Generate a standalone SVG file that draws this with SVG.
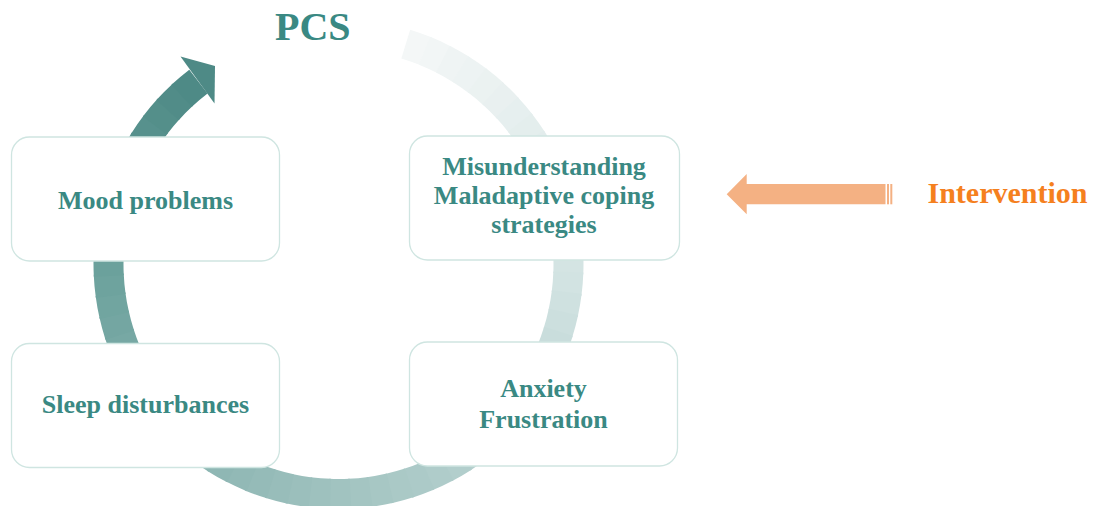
<svg xmlns="http://www.w3.org/2000/svg" xmlns:xlink="http://www.w3.org/1999/xlink" width="1095" height="506" viewBox="0 0 1095 506">
  <style>
    .box { fill: #ffffff; stroke: #cfe5e1; stroke-width: 1.3; }
    .label { font-family: "Liberation Serif", "Times New Roman", serif; font-weight: bold; font-size: 26px; fill: #3a8983; text-anchor: middle; }
    .seg { fill: none; stroke-width: 30; stroke-dasharray: 22 2000; }
  </style>
  <defs>
    <!-- one ring of the cycle; each coloured slice is a rotated dash of it -->
    <circle id="ring" cx="338.5" cy="264" r="230"/>
  </defs>

  <rect width="1095" height="506" fill="#ffffff"/>

  <g id="connectors">
    <!-- cycle arrow: light tail at the top right, darkening clockwise to the head -->
    <g id="cycle-arrow">
      <use xlink:href="#ring" class="seg" transform="rotate(-73 338.5 264)" stroke="rgb(244,247,247)"/>
      <use xlink:href="#ring" class="seg" transform="rotate(-68 338.5 264)" stroke="rgb(242,246,246)"/>
      <use xlink:href="#ring" class="seg" transform="rotate(-63 338.5 264)" stroke="rgb(239,244,244)"/>
      <use xlink:href="#ring" class="seg" transform="rotate(-58 338.5 264)" stroke="rgb(237,243,243)"/>
      <use xlink:href="#ring" class="seg" transform="rotate(-53 338.5 264)" stroke="rgb(235,242,241)"/>
      <use xlink:href="#ring" class="seg" transform="rotate(-48 338.5 264)" stroke="rgb(233,240,240)"/>
      <use xlink:href="#ring" class="seg" transform="rotate(-43 338.5 264)" stroke="rgb(230,239,239)"/>
      <use xlink:href="#ring" class="seg" transform="rotate(-38 338.5 264)" stroke="rgb(228,238,237)"/>
      <use xlink:href="#ring" class="seg" transform="rotate(-33 338.5 264)" stroke="rgb(226,236,236)"/>
      <use xlink:href="#ring" class="seg" transform="rotate(-28 338.5 264)" stroke="rgb(224,235,234)"/>
      <use xlink:href="#ring" class="seg" transform="rotate(-23 338.5 264)" stroke="rgb(221,234,233)"/>
      <use xlink:href="#ring" class="seg" transform="rotate(-18 338.5 264)" stroke="rgb(219,232,232)"/>
      <use xlink:href="#ring" class="seg" transform="rotate(-13 338.5 264)" stroke="rgb(217,231,230)"/>
      <use xlink:href="#ring" class="seg" transform="rotate(-8 338.5 264)" stroke="rgb(215,230,229)"/>
      <use xlink:href="#ring" class="seg" transform="rotate(-3 338.5 264)" stroke="rgb(212,228,227)"/>
      <use xlink:href="#ring" class="seg" transform="rotate(2 338.5 264)" stroke="rgb(210,227,226)"/>
      <use xlink:href="#ring" class="seg" transform="rotate(7 338.5 264)" stroke="rgb(207,225,224)"/>
      <use xlink:href="#ring" class="seg" transform="rotate(12 338.5 264)" stroke="rgb(204,223,222)"/>
      <use xlink:href="#ring" class="seg" transform="rotate(17 338.5 264)" stroke="rgb(201,221,220)"/>
      <use xlink:href="#ring" class="seg" transform="rotate(22 338.5 264)" stroke="rgb(198,219,218)"/>
      <use xlink:href="#ring" class="seg" transform="rotate(27 338.5 264)" stroke="rgb(196,218,216)"/>
      <use xlink:href="#ring" class="seg" transform="rotate(32 338.5 264)" stroke="rgb(193,216,214)"/>
      <use xlink:href="#ring" class="seg" transform="rotate(37 338.5 264)" stroke="rgb(190,214,212)"/>
      <use xlink:href="#ring" class="seg" transform="rotate(42 338.5 264)" stroke="rgb(187,212,210)"/>
      <use xlink:href="#ring" class="seg" transform="rotate(47 338.5 264)" stroke="rgb(184,210,208)"/>
      <use xlink:href="#ring" class="seg" transform="rotate(52 338.5 264)" stroke="rgb(181,208,206)"/>
      <use xlink:href="#ring" class="seg" transform="rotate(57 338.5 264)" stroke="rgb(178,206,204)"/>
      <use xlink:href="#ring" class="seg" transform="rotate(62 338.5 264)" stroke="rgb(175,204,202)"/>
      <use xlink:href="#ring" class="seg" transform="rotate(67 338.5 264)" stroke="rgb(172,202,200)"/>
      <use xlink:href="#ring" class="seg" transform="rotate(72 338.5 264)" stroke="rgb(170,201,198)"/>
      <use xlink:href="#ring" class="seg" transform="rotate(77 338.5 264)" stroke="rgb(167,199,196)"/>
      <use xlink:href="#ring" class="seg" transform="rotate(82 338.5 264)" stroke="rgb(164,197,194)"/>
      <use xlink:href="#ring" class="seg" transform="rotate(87 338.5 264)" stroke="rgb(161,195,192)"/>
      <use xlink:href="#ring" class="seg" transform="rotate(92 338.5 264)" stroke="rgb(158,193,190)"/>
      <use xlink:href="#ring" class="seg" transform="rotate(97 338.5 264)" stroke="rgb(155,191,188)"/>
      <use xlink:href="#ring" class="seg" transform="rotate(102 338.5 264)" stroke="rgb(152,189,186)"/>
      <use xlink:href="#ring" class="seg" transform="rotate(107 338.5 264)" stroke="rgb(149,187,184)"/>
      <use xlink:href="#ring" class="seg" transform="rotate(112 338.5 264)" stroke="rgb(146,185,182)"/>
      <use xlink:href="#ring" class="seg" transform="rotate(117 338.5 264)" stroke="rgb(143,183,180)"/>
      <use xlink:href="#ring" class="seg" transform="rotate(122 338.5 264)" stroke="rgb(140,182,178)"/>
      <use xlink:href="#ring" class="seg" transform="rotate(127 338.5 264)" stroke="rgb(137,180,176)"/>
      <use xlink:href="#ring" class="seg" transform="rotate(132 338.5 264)" stroke="rgb(134,178,174)"/>
      <use xlink:href="#ring" class="seg" transform="rotate(137 338.5 264)" stroke="rgb(131,176,172)"/>
      <use xlink:href="#ring" class="seg" transform="rotate(142 338.5 264)" stroke="rgb(128,174,170)"/>
      <use xlink:href="#ring" class="seg" transform="rotate(147 338.5 264)" stroke="rgb(125,172,168)"/>
      <use xlink:href="#ring" class="seg" transform="rotate(152 338.5 264)" stroke="rgb(122,170,166)"/>
      <use xlink:href="#ring" class="seg" transform="rotate(157 338.5 264)" stroke="rgb(119,168,164)"/>
      <use xlink:href="#ring" class="seg" transform="rotate(162 338.5 264)" stroke="rgb(116,166,162)"/>
      <use xlink:href="#ring" class="seg" transform="rotate(167 338.5 264)" stroke="rgb(113,165,160)"/>
      <use xlink:href="#ring" class="seg" transform="rotate(172 338.5 264)" stroke="rgb(110,163,158)"/>
      <use xlink:href="#ring" class="seg" transform="rotate(177 338.5 264)" stroke="rgb(107,161,156)"/>
      <use xlink:href="#ring" class="seg" transform="rotate(182 338.5 264)" stroke="rgb(104,159,154)"/>
      <use xlink:href="#ring" class="seg" transform="rotate(187 338.5 264)" stroke="rgb(101,157,152)"/>
      <use xlink:href="#ring" class="seg" transform="rotate(192 338.5 264)" stroke="rgb(98,154,150)"/>
      <use xlink:href="#ring" class="seg" transform="rotate(197 338.5 264)" stroke="rgb(95,152,147)"/>
      <use xlink:href="#ring" class="seg" transform="rotate(202 338.5 264)" stroke="rgb(92,150,145)"/>
      <use xlink:href="#ring" class="seg" transform="rotate(207 338.5 264)" stroke="rgb(90,147,143)"/>
      <use xlink:href="#ring" class="seg" transform="rotate(212 338.5 264)" stroke="rgb(87,145,141)"/>
      <use xlink:href="#ring" class="seg" transform="rotate(217 338.5 264)" stroke="rgb(84,143,138)"/>
      <use xlink:href="#ring" class="seg" transform="rotate(222 338.5 264)" stroke="rgb(81,140,136)"/>
      <use xlink:href="#ring" class="seg" transform="rotate(227 338.5 264)" stroke="rgb(78,138,134)"/>
      <!-- arrowhead -->
      <polygon points="180.5,56.5 215,66 214.5,103.5" fill="rgb(78,138,134)"/>
    </g>

    <!-- striped arrow pointing from the intervention to the misunderstanding box -->
    <g id="intervention-arrow" fill="#f4b183">
      <polygon points="726.7,194.3 746.7,174 746.7,184 885.5,184 885.5,204.3 746.7,204.3 746.7,214.3"/>
      <rect x="887" y="184" width="2" height="20.3"/>
      <rect x="890.3" y="184" width="2" height="20.3"/>
    </g>
  </g>

  <g id="pcs">
    <text x="275" y="39.5" font-family="'Liberation Serif', 'Times New Roman', serif" font-weight="bold" font-size="40" fill="#3a8983">PCS</text>
  </g>

  <g id="mood">
    <rect class="box" x="11.5" y="137" width="268" height="124" rx="18"/>
    <text class="label" x="145.5" y="209">Mood problems</text>
  </g>

  <g id="misunderstanding">
    <rect class="box" x="409.5" y="136" width="270" height="124" rx="18"/>
    <text class="label" x="544" y="174.5">Misunderstanding</text>
    <text class="label" x="544" y="204">Maladaptive coping</text>
    <text class="label" x="544" y="233">strategies</text>
  </g>

  <g id="sleep">
    <rect class="box" x="11.5" y="343.5" width="268" height="124" rx="18"/>
    <text class="label" x="145.5" y="413">Sleep disturbances</text>
  </g>

  <g id="anxiety">
    <rect class="box" x="409.5" y="342" width="268" height="124" rx="18"/>
    <text class="label" x="543.5" y="397">Anxiety</text>
    <text class="label" x="543.5" y="428">Frustration</text>
  </g>

  <g id="intervention">
    <text x="927.5" y="203.3" font-family="'Liberation Serif', 'Times New Roman', serif" font-weight="bold" font-size="30" fill="#f5801e">Intervention</text>
  </g>
</svg>
